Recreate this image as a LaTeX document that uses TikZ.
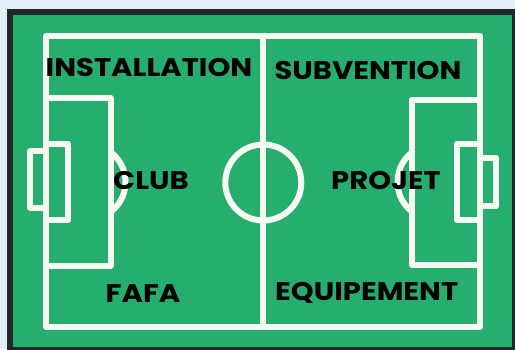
\documentclass[tikz,border=0pt]{standalone}
\usepackage{fontspec}
\newfontfamily\pfont{Poppins}[FakeStretch=1.14]
\definecolor{bgblue}{HTML}{DFEEF9}
\definecolor{pitchgreen}{HTML}{25AE6E}
\definecolor{framedark}{HTML}{22272A}
\definecolor{linewhite}{HTML}{F7FBF2}
\tikzset{
  pline/.style={draw=linewhite, line width=6pt, line join=round},
  lbl/.style={text=black, font=\pfont\bfseries\fontsize{25.5}{25.5}\selectfont, inner sep=0pt, anchor=center}
}
\begin{document}
\begin{tikzpicture}[x=1pt, y=-1pt]
\useasboundingbox (0,0) rectangle (515,349);
\clip (0,0) rectangle (515,349);
\fill[bgblue] (0,0) rectangle (515,349);
% frame
\draw[line width=6pt, draw=framedark, fill=pitchgreen] (10,12) rectangle (515,350);
% pitch outline and halfway line
\draw[pline] (46.3,36.3) rectangle (480,327);
\draw[pline] (263.3,36.3) -- (263.3,327);
\draw[pline] (263.3,182.5) circle[radius=38];
% left side
\draw[pline] (46.3,98) rectangle (110.5,265.5);
\draw[pline] (46.3,143.7) rectangle (68,220);
\draw[pline] (30.3,151) rectangle (46.3,208);
\begin{scope}
  \clip (110.5,0) rectangle (200,349);
  \draw[pline] (88,182) circle[radius=37.5];
\end{scope}
% right side
\draw[pline] (412,99.7) rectangle (480,264.7);
\draw[pline] (457,143.7) rectangle (480,220.3);
\draw[pline] (480,158) rectangle (496.3,206);
\begin{scope}
  \clip (300,0) rectangle (412,349);
  \draw[pline] (435,182) circle[radius=37.5];
\end{scope}
% labels
\node[lbl] (installation) at (149,67.5) {INSTALLATION};
\node[lbl] (subvention) at (368,70.5) {SUBVENTION};
\node[lbl] (club) at (151,180.5) {CLUB};
\node[lbl] (projet) at (386,181) {PROJET};
\node[lbl] (fafa) at (143,293.7) {FAFA};
\node[lbl] (equipement) at (366.7,293.3) {EQUIPEMENT};
\end{tikzpicture}
\end{document}
